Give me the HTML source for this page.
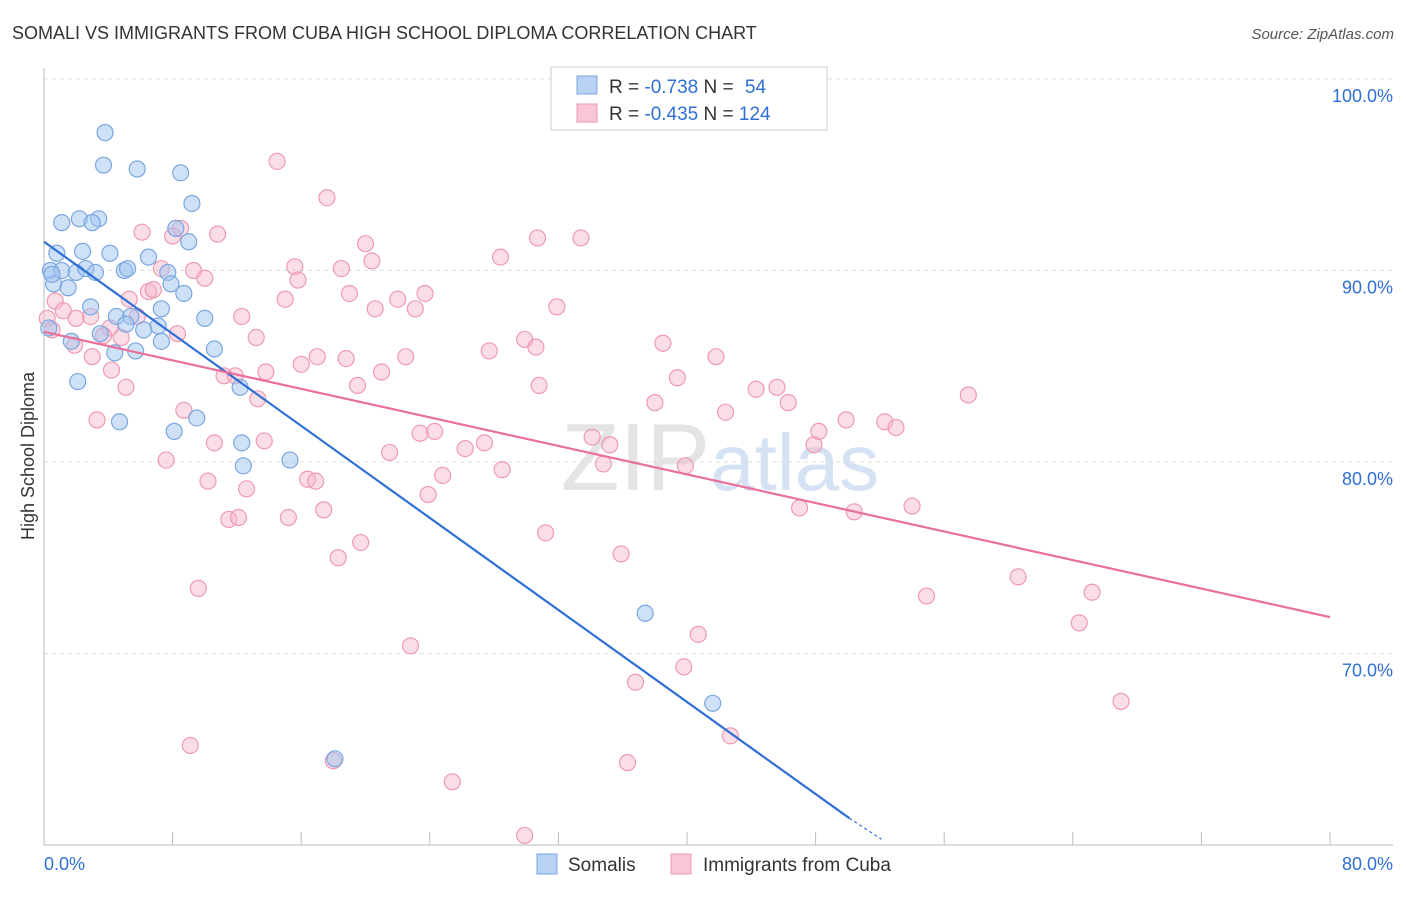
<!DOCTYPE html>
<html><head><meta charset="utf-8"><style>
body{margin:0;background:#fff;font-family:"Liberation Sans",sans-serif;}
svg text{font-family:"Liberation Sans",sans-serif;}
</style></head><body>
<svg id="chart" width="1406" height="892" xmlns="http://www.w3.org/2000/svg">
<text x="12" y="39" font-size="18" fill="#333">SOMALI VS IMMIGRANTS FROM CUBA HIGH SCHOOL DIPLOMA CORRELATION CHART</text>
<text x="1394" y="39" font-size="15" fill="#555" text-anchor="end" font-style="italic">Source: ZipAtlas.com</text>
<text x="720" y="490" font-size="96" fill="#e4e4e4" text-anchor="middle" font-family="Liberation Serif">ZIP<tspan fill="#d4e2f3" font-family="Liberation Sans" font-size="80">atlas</tspan></text>
<g id="grid"></g>
<g id="axes"></g>
<g id="pts"></g>
<g id="lines"></g>
<text transform="translate(34,456) rotate(-90)" font-size="18" fill="#333" text-anchor="middle">High School Diploma</text>
<g>
<rect x="551" y="67" width="276" height="63" fill="#fff" stroke="#ccc"/>
<rect x="577" y="76" width="20" height="18" fill="#b9d2f3" stroke="#7aa6e0"/>
<rect x="577" y="104" width="20" height="18" fill="#f8c6d5" stroke="#ee9ab4"/>
<text x="609" y="93" font-size="19" fill="#333">R = <tspan fill="#2f6fd6">-0.738</tspan>   N = <tspan fill="#2f6fd6" dx="6">54</tspan></text>
<text x="609" y="120" font-size="19" fill="#333">R = <tspan fill="#2f6fd6">-0.435</tspan>   N = <tspan fill="#2f6fd6">124</tspan></text>
</g>
<g>
<rect x="537" y="854" width="20" height="20" fill="#b9d2f3" stroke="#7aa6e0"/>
<text x="568" y="871" font-size="19" fill="#333">Somalis</text>
<rect x="671" y="854" width="20" height="20" fill="#f8c6d5" stroke="#ee9ab4"/>
<text x="703" y="871" font-size="19" fill="#333">Immigrants from Cuba</text>
</g>
</svg>
<script>
const yTicks=[100,90,80,70];
const xTickLabels=["0.0%","80.0%"];
const blueX=[3.8,3.7,5.8,8.5,9.2,1.1,2.2,3.4,3.0,8.2,9.0,0.8,2.4,4.1,6.5,0.4,1.1,2.0,2.6,3.2,5.0,5.2,7.7,0.6,1.5,7.9,8.7,2.9,7.3,10.0,4.5,5.4,5.1,7.1,6.2,0.3,3.5,1.7,7.3,5.7,4.4,10.6,2.1,12.2,9.5,4.7,8.1,12.3,12.4,15.3,37.4,41.6,18.1,0.5];
const blueY=[97.2,95.5,95.3,95.1,93.5,92.5,92.7,92.7,92.5,92.2,91.5,90.9,91.0,90.9,90.7,90.0,90.0,89.9,90.1,89.9,90.0,90.1,89.9,89.3,89.1,89.3,88.8,88.1,88.0,87.5,87.6,87.6,87.2,87.1,86.9,87.0,86.7,86.3,86.3,85.8,85.7,85.9,84.2,83.9,82.3,82.1,81.6,81.0,79.8,80.1,72.1,67.4,64.5,89.8];
const pinkX=[14.5,17.6,6.1,8.0,8.5,10.8,20.0,28.4,30.7,33.4,15.6,18.5,20.4,7.3,9.3,10.0,15.8,19.0,23.7,15.0,22.0,20.6,23.1,31.9,5.3,6.5,6.8,0.7,1.2,0.2,0.5,2.0,2.9,4.1,3.7,4.8,5.8,8.3,12.3,13.2,1.9,3.0,4.2,5.1,11.2,11.9,13.8,16.0,17.0,18.8,21.0,22.5,19.5,29.9,30.6,27.7,38.5,41.8,39.4,30.8,38.0,44.3,45.6,46.3,42.4,49.9,52.3,53.0,57.5,47.9,48.2,8.7,3.3,13.3,13.7,10.6,23.4,24.3,21.5,26.2,27.4,34.1,35.2,7.6,10.2,12.6,16.4,16.9,24.8,23.9,28.5,34.8,39.9,11.5,12.1,15.2,17.4,31.2,19.7,18.3,35.9,47.0,50.4,54.0,9.6,54.9,60.6,65.2,64.4,40.7,22.8,39.8,36.8,67.0,42.7,9.1,18.0,36.3,25.4,29.9];
const pinkY=[95.7,93.8,92.0,91.8,92.2,91.9,91.4,90.7,91.7,91.7,90.2,90.1,90.5,90.1,90.0,89.6,89.5,88.8,88.8,88.5,88.5,88.0,88.0,88.1,88.5,88.9,89.0,88.4,87.9,87.5,86.9,87.5,87.6,87.0,86.6,86.5,87.6,86.7,87.6,86.5,86.1,85.5,84.8,83.9,84.5,84.5,84.7,85.1,85.5,85.4,84.7,85.5,84.0,86.4,86.0,85.8,86.2,85.5,84.4,84.0,83.1,83.8,83.9,83.1,82.6,82.2,82.1,81.8,83.5,80.9,81.6,82.7,82.2,83.3,81.1,81.0,81.5,81.6,80.5,80.7,81.0,81.3,80.9,80.1,79.0,78.6,79.1,79.0,79.3,78.3,79.6,79.9,79.8,77.0,77.1,77.1,77.5,76.3,75.8,75.0,75.2,77.6,77.4,77.7,73.4,73.0,74.0,73.2,71.6,71.0,70.4,69.3,68.5,67.5,65.7,65.2,64.4,64.3,63.3,60.5];
const blueTrend=[91.5,50.1,61.4,52.1,60.3]; // y0, xEnd, yEnd, xDashEnd, yDashEnd
const pinkTrend=[86.8,80,71.9];
const NS="http://www.w3.org/2000/svg";
const X=v=>44+v*16.075, Y=v=>845-(v-60)*19.15;
function mk(tag,attrs,parent){const e=document.createElementNS(NS,tag);for(const k in attrs)e.setAttribute(k,attrs[k]);parent.appendChild(e);return e;}
const grid=document.getElementById('grid'),axes=document.getElementById('axes'),pts=document.getElementById('pts'),lines=document.getElementById('lines');
yTicks.forEach(t=>{
 const l=mk('line',{x1:44,x2:1393,y1:Y(t),y2:Y(t),stroke:'#ddd','stroke-dasharray':'4,4'},grid);
 
 
 const tx=mk('text',{x:1393,y:Y(t)+23,'font-size':18,fill:'#2f6fd6','text-anchor':'end'},grid);
 tx.textContent=t.toFixed(1)+'%';
 
 
});
const ya=mk('line',{x1:44,x2:44,y1:68,y2:845,stroke:'#bbb'},axes);


const xa=mk('line',{x1:44,x2:1393,y1:845,y2:845,stroke:'#bbb'},axes);


for(let i=1;i<=10;i++){const t=mk('line',{x1:X(i*8),x2:X(i*8),y1:832,y2:845,stroke:'#bbb'},axes);
 
 }
const xl0=mk('text',{x:44,y:870,'font-size':18,fill:'#2f6fd6'},axes);xl0.textContent=xTickLabels[0];


const xl1=mk('text',{x:1393,y:870,'font-size':18,fill:'#2f6fd6','text-anchor':'end'},axes);xl1.textContent=xTickLabels[1];


pinkX.forEach((x,i)=>{const c=mk('circle',{cx:X(x),cy:Y(pinkY[i]),r:8,fill:'rgba(246,180,200,0.45)',stroke:'#ee9ab4','stroke-width':1.2},pts);
 
 });
blueX.forEach((x,i)=>{const c=mk('circle',{cx:X(x),cy:Y(blueY[i]),r:8,fill:'rgba(160,195,240,0.5)',stroke:'#7aa6e0','stroke-width':1.2},pts);
 
 });
const bl=mk('line',{x1:X(0),y1:Y(blueTrend[0]),x2:X(blueTrend[1]),y2:Y(blueTrend[2]),stroke:'#2f6fd6','stroke-width':2.2},lines);


const bd=mk('line',{x1:X(blueTrend[1]),y1:Y(blueTrend[2]),x2:X(blueTrend[3]),y2:Y(blueTrend[4]),stroke:'#2f6fd6','stroke-width':1.2,'stroke-dasharray':'3,3'},lines);


const pl=mk('line',{x1:X(0),y1:Y(pinkTrend[0]),x2:X(pinkTrend[1]),y2:Y(pinkTrend[2]),stroke:'#e8709a','stroke-width':2.2},lines);


</script>
</body></html>
